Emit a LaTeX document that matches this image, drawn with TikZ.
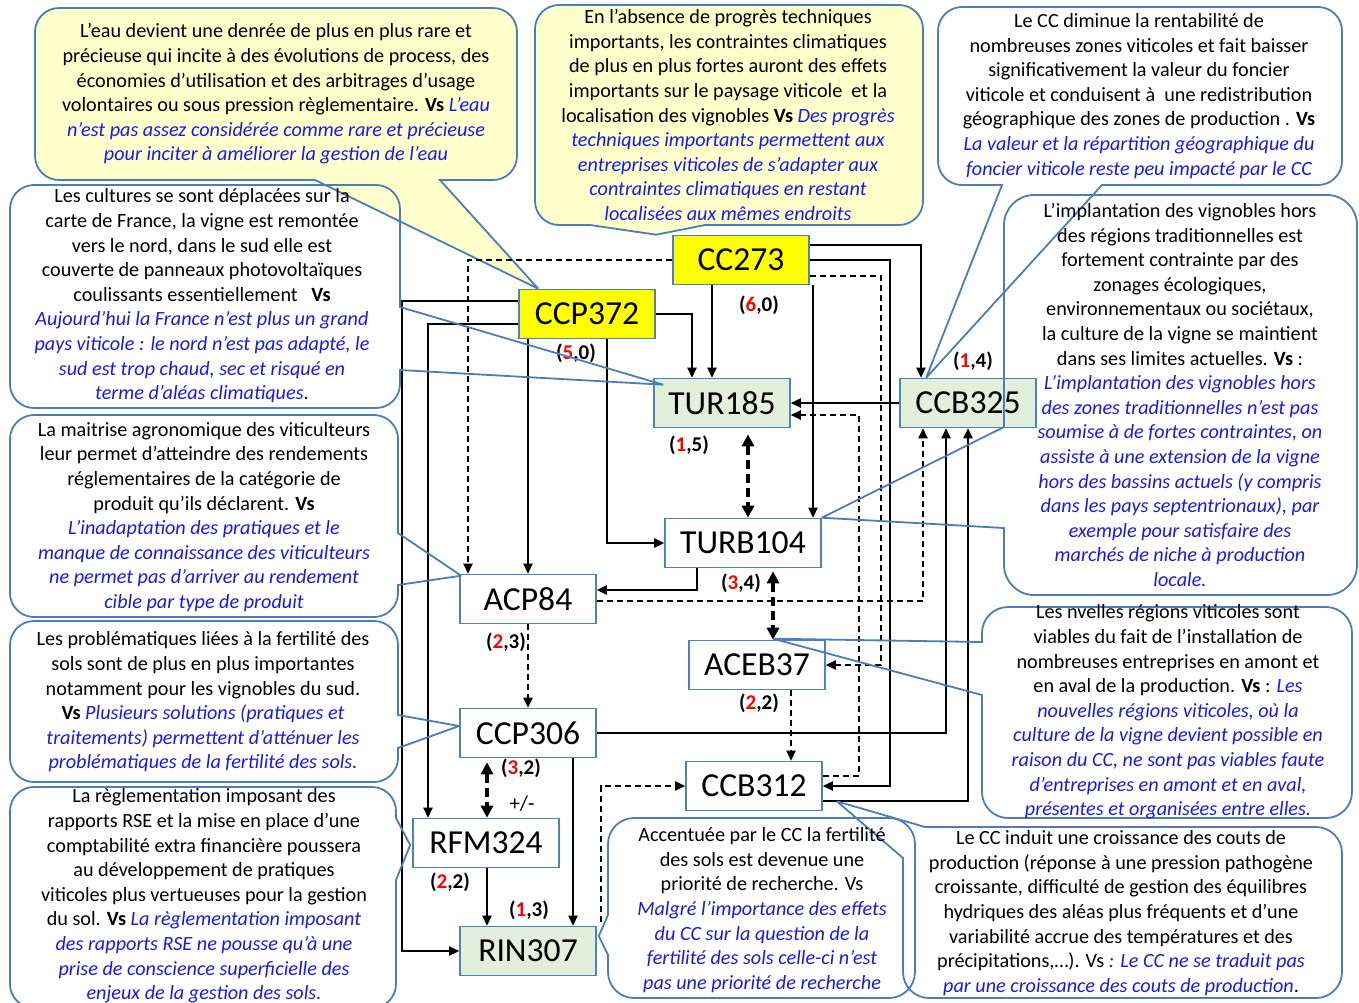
\documentclass[tikz,border=0pt]{standalone}
\usepackage{fontspec}
\setmainfont{Carlito}
\usetikzlibrary{positioning,arrows.meta,calc}

\definecolor{boxblue}{RGB}{79,129,189}
\definecolor{noteblue}{RGB}{74,126,187}
\definecolor{notefill}{RGB}{255,255,204}
\definecolor{extyellow}{RGB}{255,255,0}
\definecolor{resgreen}{RGB}{226,239,218}
\definecolor{vsblue}{RGB}{25,25,235}
\definecolor{scorered}{RGB}{255,0,0}

\newcommand{\vs}[1]{{\color{vsblue}\itshape #1}}
\newcommand{\pscore}[2]{(\textcolor{scorered}{#1},#2)}

\begin{document}
\begin{tikzpicture}[x=0.5pt,y=-0.5pt,
  var/.style={draw=boxblue,line width=0.8pt,minimum width=68pt,minimum height=24.5pt,inner sep=0pt,font=\fontsize{16.8}{19}\selectfont},
  ext/.style={var,fill=extyellow},
  res/.style={var,fill=resgreen},
  arr/.style={line width=0.75pt,-{Triangle[length=5pt,width=4.6pt]}},
  dep/.style={arr,dash pattern=on 3pt off 2pt},
  dbl/.style={line width=2pt,dash pattern=on 4.5pt off 2.5pt,{Triangle[length=6pt,width=6pt]}-{Triangle[length=6pt,width=6pt]}},
  note/.style={draw=noteblue,line width=0.9pt},
  notetext/.style={align=center,inner sep=0pt,font=\fontsize{10.1}{12.3}\selectfont},
  pscore/.style={inner sep=0pt,font=\fontsize{10.5}{12}\selectfont\bfseries}]
  \useasboundingbox (0,0) rectangle (1359,1002);

  \node[ext] (cc273) at (741,260) {CC273};
  \node[ext] (ccp372) at (587,314) {CCP372};
  \node[res] (tur185) at (722,403) {TUR185};
  \node[res] (ccb325) at (968,403) {CCB325};
  \node[var,minimum width=78pt] (turb104) at (743,543) {TURB104};
  \node[var] (acp84) at (528,599) {ACP84};
  \node[var] (aceb37) at (757,665) {ACEB37};
  \node[var] (ccp306) at (528,733) {CCP306};
  \node[var] (ccb312) at (754,786) {CCB312};
  \node[var,minimum width=73pt] (rfm324) at (486,843) {RFM324};
  \node[res] (rin307) at (528,951) {RIN307};

  \draw[note,fill=notefill] ($(ccp372.north west)+(20,0)$) -- (440,180) [rounded corners=12pt] -- (517,180) -- (517,8) -- (35,8) -- (35,180) [sharp corners] -- (315,180) -- ($(ccp372.north west)+(20,0)$);
  \draw[note,fill=notefill] ($(cc273.north west)+(-16,0)$) -- (705,225) [rounded corners=12pt] -- (923,225) -- (923,5) -- (535,5) -- (535,225) [sharp corners] -- (590,225) -- ($(cc273.north west)+(-16,0)$);

  \draw[dep] (cc273.west) -| ($(acp84.north)+(-60,0)$);
  \draw[arr] ($(ccp372.west)+(0,-13)$) -- ++(-116,0) |- (rin307.west);
  \draw[arr] ($(ccp372.west)+(0,10)$) -| ($(rfm324.north)+(-58,0)$);
  \draw[arr] (ccp372.south -| acp84.north) -- (acp84.north);
  \draw[arr] ($(ccp372.south)+(20,0)$) |- (turb104.west);
  \draw[arr] (ccp372.east) -| ($(tur185.north)+(-30,0)$);
  \draw[arr] ($(cc273.south)+(-29,0)$) -- ($(tur185.north)+(-10,0)$);
  \draw[arr] ($(cc273.east)+(0,-15)$) -| ($(ccb325.north)+(-47,0)$);
  \draw[arr] (cc273.east) -- ++(80,0) |- (ccb312.east);
  \draw[dep] ($(cc273.east)+(0,16)$) -- ++(71,0) |- (aceb37.east);
  \draw[arr] ($(cc273.south)+(72,0)$) -- ($(turb104.north)+(70,0)$);
  \draw[arr] (ccb325.west) -- (tur185.east);
  \draw[dep] ($(ccb312.east)+(0,-10)$) -- ++(36,0) |- ($(tur185.east)+(0,12)$);
  \draw[dbl] ($(tur185.south)+(26,6)$) -- ($(turb104.north)+(5,0)$);
  \draw[dbl] ($(turb104.south)+(30,3)$) -- ($(aceb37.north)+(16,0)$);
  \draw[arr] ($(turb104.south)+(-46,0)$) |- ($(acp84.east)+(0,-9)$);
  \draw[dep] ($(acp84.east)+(0,2)$) -| ($(ccb325.south)+(-45,0)$);
  \draw[dep] (acp84.south) -- (ccp306.north);
  \draw[dep] ($(aceb37.south)+(34,0)$) -- ($(ccb312.north)+(37,0)$);
  \draw[arr] (ccp306.east) -| ($(ccb325.south)+(-22,0)$);
  \draw[arr] ($(ccb312.east)+(0,15)$) -| (ccb325.south);
  \draw[dbl] ($(ccp306.south)+(-41,4)$) -- ($(rfm324.north)+(1,0)$);
  \draw[arr] ($(ccp306.south)+(45,0)$) -- ($(rin307.north)+(45,0)$);
  \draw[arr] ($(rfm324.south)+(1,0)$) -- ($(rin307.north)+(-41,0)$);
  \draw[dep] ($(rin307.north east)+(4,-4)$) |- (ccb312.west);

  \node[pscore] (s273) at (759,305) {\pscore{6}{0}};
  \node[pscore] (s372) at (576,353) {\pscore{5}{0}};
  \node[pscore] (s185) at (689,445) {\pscore{1}{5}};
  \node[pscore] (s325) at (973,361) {\pscore{1}{4}};
  \node[pscore] (s104) at (741,583) {\pscore{3}{4}};
  \node[pscore] (s84) at (506,642) {\pscore{2}{3}};
  \node[pscore] (s37) at (759,703) {\pscore{2}{2}};
  \node[pscore] (s306) at (521,768) {\pscore{3}{2}};
  \node[inner sep=0pt,font=\fontsize{10.5}{12}\selectfont] (pm) at (522,804) {+/-};
  \node[pscore] (s324) at (450,882) {\pscore{2}{2}};
  \node[pscore] (s307) at (529,910) {\pscore{1}{3}};

  \draw[note] ($(ccb325.north west)+(27,0)$) -- (1102,185) [rounded corners=12pt] -- (1342,185) -- (1342,7) -- (938,7) -- (938,185) [sharp corners] -- (1002,185) -- ($(ccb325.north west)+(27,0)$);
  \draw[note] ($(tur185.north west)+(10,7)$) -- (400,370) [rounded corners=12pt] -- (400,408) -- (10,408) -- (10,185) -- (400,185) [sharp corners] -- (400,307) -- ($(tur185.north west)+(10,7)$);
  \draw[note] (turb104.north east) -- (1004,528) [rounded corners=15pt] -- (1004,595) -- (1357,595) -- (1357,195) -- (1004,195) [sharp corners] -- (1004,427) -- (turb104.north east);
  \draw[note] ($(acp84.north west)+(2,2)$) -- (398,585) [rounded corners=12pt] -- (398,617) -- (10,617) -- (10,415) -- (398,415) [sharp corners] -- (398,533) -- ($(acp84.north west)+(2,2)$);
  \draw[note] ($(ccp306.west)+(0,-7)$) -- (398,748) [rounded corners=12pt] -- (398,782) -- (10,782) -- (10,621) -- (398,621) [sharp corners] -- (398,715) -- ($(ccp306.west)+(0,-7)$);
  \draw[note] ($(rfm324.west)+(-2,2)$) -- (396,880) [rounded corners=12pt] -- (396,1008) -- (10,1008) -- (10,787) -- (396,787) [sharp corners] -- (396,818) -- ($(rfm324.west)+(-2,2)$);
  \draw[note] ($(aceb37.north)+(16,-1)$) -- (982,695) [rounded corners=13pt] -- (982,818) -- (1352,818) -- (1352,607) -- (982,607) [sharp corners] -- (982,642) -- ($(aceb37.north)+(16,-1)$);
  \draw[note] ($(rin307.east)+(2,-15)$) -- (608,955) [rounded corners=13pt] -- (608,998) -- (915,998) -- (915,818) -- (608,818) [sharp corners] -- (608,915) -- ($(rin307.east)+(2,-15)$);
  \draw[note] ($(ccb312.south east)+(14,-10)$) -- (903,858) [rounded corners=13pt] -- (903,998) -- (1342,998) -- (1342,827) [sharp corners] -- (925,827) -- ($(ccb312.south east)+(14,-10)$);

  \node[notetext] (eau) at (276,94) {L'eau devient une denrée de plus en plus rare et\\
    précieuse qui incite à des évolutions de process, des\\
    économies d'utilisation et des arbitrages d'usage\\
    volontaires ou sous pression règlementaire. \textbf{Vs} \vs{L'eau}\\
    \vs{n'est pas assez considérée comme rare et précieuse}\\
    \vs{pour inciter à améliorer la gestion de l'eau}};
  \node[notetext] (absence) at (728,115) {En l'absence de progrès techniques\\
    importants, les contraintes climatiques\\
    de plus en plus fortes auront des effets\\
    importants sur le paysage viticole~ et la\\
    localisation des vignobles \textbf{Vs} \vs{Des progrès}\\
    \vs{techniques importants permettent aux}\\
    \vs{entreprises viticoles de s'adapter aux}\\
    \vs{contraintes climatiques en restant}\\
    \vs{localisées aux mêmes endroits}};
  \node[notetext] (foncier) at (1139,96) {Le CC diminue la rentabilité de\\
    nombreuses zones viticoles et fait baisser\\
    significativement la valeur du foncier\\
    viticole et conduisent à~ une redistribution\\
    géographique des zones de production . \textbf{Vs}\\
    \vs{La valeur et la répartition géographique du}\\
    \vs{foncier viticole reste peu impacté par le CC}};
  \node[notetext] (cultures) at (202,296) {Les cultures se sont déplacées sur la\\
    carte de France, la vigne est remontée\\
    vers le nord, dans le sud elle est\\
    couverte de panneaux photovoltaïques\\
    coulissants essentiellement~~ \textbf{Vs}\\
    \vs{Aujourd’hui la France n'est plus un grand}\\
    \vs{pays viticole : le nord n’est pas adapté, le}\\
    \vs{sud est trop chaud, sec et risqué en}\\
    \vs{terme d’aléas climatiques}.};
  \node[notetext] (implant) at (1180,395) {L'implantation des vignobles hors\\
    des régions traditionnelles est\\
    fortement contrainte par des\\
    zonages écologiques,\\
    environnementaux ou sociétaux,\\
    la culture de la vigne se maintient\\
    dans ses limites actuelles. \textbf{Vs} :\\
    \vs{L'implantation des vignobles hors}\\
    \vs{des zones traditionnelles n'est pas}\\
    \vs{soumise à de fortes contraintes, on}\\
    \vs{assiste à une extension de la vigne}\\
    \vs{hors des bassins actuels (y compris}\\
    \vs{dans les pays septentrionaux), par}\\
    \vs{exemple pour satisfaire des}\\
    \vs{marchés de niche à production}\\
    \vs{locale.}};
  \node[notetext] (maitrise) at (204,517) {La maitrise agronomique des viticulteurs\\
    leur permet d'atteindre des rendements\\
    réglementaires de la catégorie de\\
    produit qu'ils déclarent. \textbf{Vs}\\
    \vs{L'inadaptation des pratiques et le}\\
    \vs{manque de connaissance des viticulteurs}\\
    \vs{ne permet pas d'arriver au rendement}\\
    \vs{cible par type de produit}};
  \node[notetext] (fertil) at (203,702) {Les problématiques liées à la fertilité des\\
    sols sont de plus en plus importantes\\
    notamment pour les vignobles du sud.\\
    \textbf{Vs} \vs{Plusieurs solutions (pratiques et}\\
    \vs{traitements) permettent d'atténuer les}\\
    \vs{problématiques de la fertilité des sols.}};
  \node[notetext] (rse) at (204,896) {La règlementation imposant des\\
    rapports RSE et la mise en place d'une\\
    comptabilité extra financière poussera\\
    au développement de pratiques\\
    viticoles plus vertueuses pour la gestion\\
    du sol. \textbf{Vs} \vs{La règlementation imposant}\\
    \vs{des rapports RSE ne pousse qu'à une}\\
    \vs{prise de conscience superficielle des}\\
    \vs{enjeux de la gestion des sols.}};
  \node[notetext] (nvelles) at (1168,712) {Les nvelles régions viticoles sont\\
    viables du fait de l'installation de\\
    nombreuses entreprises en amont et\\
    en aval de la production. \textbf{Vs} : \vs{Les}\\
    \vs{nouvelles régions viticoles, où la}\\
    \vs{culture de la vigne devient possible en}\\
    \vs{raison du CC, ne sont pas viables faute}\\
    \vs{d'entreprises en amont et en aval,}\\
    \vs{présentes et organisées entre elles.}};
  \node[notetext] (accent) at (762,910) {Accentuée par le CC la fertilité\\
    des sols est devenue une\\
    priorité de recherche. Vs\\
    \vs{Malgré l'importance des effets}\\
    \vs{du CC sur la question de la}\\
    \vs{fertilité des sols celle-ci n'est}\\
    \vs{pas une priorité de recherche}};
  \node[notetext] (couts) at (1121,913) {Le CC induit une croissance des couts de\\
    production (réponse à une pression pathogène\\
    croissante, difficulté de gestion des équilibres\\
    hydriques des aléas plus fréquents et d'une\\
    variabilité accrue des températures et des\\
    précipitations,…). Vs \vs{: Le CC ne se traduit pas}\\
    \vs{par une croissance des couts de production}.};
\end{tikzpicture}
\end{document}
